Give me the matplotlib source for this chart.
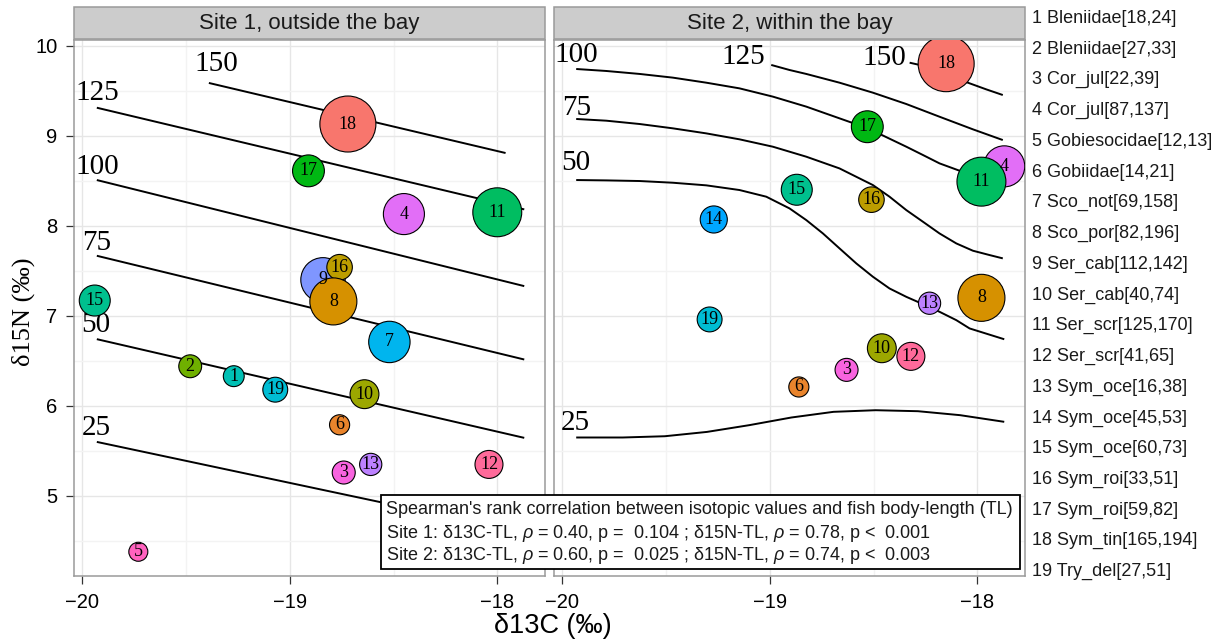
import numpy as np
import matplotlib
matplotlib.use("Agg")
import matplotlib.pyplot as plt
from matplotlib.patches import Rectangle

plt.rcParams['font.family'] = ['Liberation Sans', 'DejaVu Sans']
plt.rcParams['mathtext.fontset'] = 'custom'
plt.rcParams['mathtext.rm'] = 'Liberation Sans'
plt.rcParams['mathtext.it'] = 'Liberation Sans:italic'

# ---------------- data ----------------
groups = list(range(1, 20))
species = ["Bleniidae", "Bleniidae", "Cor_jul", "Cor_jul", "Gobiesocidae", "Gobiidae",
           "Sco_not", "Sco_por", "Ser_cab", "Ser_cab", "Ser_scr", "Ser_scr",
           "Sym_oce", "Sym_oce", "Sym_oce", "Sym_roi", "Sym_roi", "Sym_tin", "Try_del"]
tl_min = [18, 27, 22, 87, 12, 14, 69, 82, 112, 40, 125, 41, 16, 45, 60, 33, 59, 165, 27]
tl_max = [24, 33, 39, 137, 13, 21, 158, 196, 142, 74, 170, 65, 38, 53, 73, 51, 82, 194, 51]
# group placed at each successive hue of the palette
hue_order = [18, 6, 8, 16, 10, 2, 17, 11, 15, 1, 19, 7, 14, 9, 13, 4, 3, 5, 12]

site_titles = ["Site 1, outside the bay", "Site 2, within the bay"]

site1_group = [18, 17, 4, 11, 9, 16, 8, 15, 7, 2, 1, 19, 10, 6, 13, 3, 12, 5]
site1_d13c = [-18.72, -18.91, -18.45, -18.00, -18.84, -18.76, -18.79, -19.94, -18.52,
              -19.48, -19.27, -19.07, -18.64, -18.76, -18.61, -18.74, -18.04, -19.73]
site1_d15n = [9.13, 8.61, 8.13, 8.15, 7.40, 7.54, 7.16, 7.17, 6.71,
              6.44, 6.33, 6.18, 6.13, 5.79, 5.35, 5.26, 5.35, 4.38]

site2_group = [18, 17, 4, 11, 15, 16, 14, 13, 8, 19, 10, 12, 3, 6]
site2_d13c = [-18.15, -18.53, -17.87, -17.98, -18.87, -18.51, -19.27, -18.23, -17.98,
              -19.29, -18.46, -18.32, -18.63, -18.86]
site2_d15n = [9.80, 9.10, 8.66, 8.49, 8.40, 8.29, 8.07, 7.14, 7.20,
              6.96, 6.64, 6.55, 6.40, 6.21]

levels = [25, 50, 75, 100, 125, 150]

# Site 1 TL contours
s1_c25_x, s1_c25_y = [-19.93, -17.87], [5.600, 4.592]
s1_c50_x, s1_c50_y = [-19.93, -17.87], [6.741, 5.645]
s1_c75_x, s1_c75_y = [-19.93, -17.87], [7.667, 6.515]
s1_c100_x, s1_c100_y = [-19.93, -17.87], [8.508, 7.330]
s1_c125_x, s1_c125_y = [-19.93, -17.87], [9.311, 8.182]
s1_c150_x, s1_c150_y = [-19.39, -17.96], [9.586, 8.808]
s1_lab_x = [-19.933, -19.933, -19.933, -19.929, -19.929, -19.352]
s1_lab_y = [5.749, 6.897, 7.804, 8.656, 9.471, 9.793]

# Site 2 TL contours
s2_c25_x = [-19.933, -19.709, -19.506, -19.303, -19.099, -18.896, -18.693, -18.490, -18.286, -18.083, -17.870]
s2_c25_y = [5.649, 5.649, 5.663, 5.711, 5.786, 5.871, 5.934, 5.952, 5.941, 5.897, 5.823]
s2_c50_x = [-19.933, -19.788, -19.627, -19.467, -19.306, -19.146, -19.017, -18.905, -18.824, -18.744,
            -18.664, -18.583, -18.503, -18.423, -18.342, -18.262, -18.182, -18.101, -18.037, -17.870]
s2_c50_y = [8.508, 8.504, 8.497, 8.478, 8.449, 8.397, 8.323, 8.193, 8.063, 7.915,
            7.749, 7.582, 7.434, 7.304, 7.211, 7.130, 7.045, 6.952, 6.860, 6.740]
s2_c75_x = [-19.933, -19.788, -19.627, -19.467, -19.306, -19.146, -18.985, -18.824, -18.664,
            -18.503, -18.423, -18.342, -18.262, -18.182, -18.101, -18.021, -17.941, -17.877]
s2_c75_y = [9.186, 9.167, 9.130, 9.082, 9.026, 8.960, 8.878, 8.767, 8.637,
            8.452, 8.323, 8.174, 8.045, 7.915, 7.804, 7.723, 7.675, 7.638]
s2_c100_x = [-19.933, -19.788, -19.627, -19.467, -19.306, -19.146, -18.985, -18.824, -18.664,
             -18.527, -18.342, -18.262, -18.182, -18.085, -17.877]
s2_c100_y = [9.741, 9.719, 9.686, 9.645, 9.589, 9.526, 9.434, 9.323, 9.193,
             9.082, 8.878, 8.786, 8.693, 8.611, 8.415]
s2_c125_x = [-18.993, -18.905, -18.824, -18.664, -18.503, -18.342, -18.182, -18.021, -17.877]
s2_c125_y = [9.786, 9.730, 9.686, 9.589, 9.478, 9.352, 9.211, 9.071, 8.952]
s2_c150_x = [-18.326, -18.278, -18.037, -17.957, -17.877]
s2_c150_y = [9.811, 9.786, 9.582, 9.515, 9.452]
s2_lab_x = [-19.937, -19.933, -19.933, -19.933, -19.126, -18.447]
s2_lab_y = [5.811, 8.693, 9.304, 9.897, 9.871, 9.860]

stats_title = "Spearman's rank correlation between isotopic values and fish body-length (TL)"
stats_lines = ["Site 1: δ13C-TL, $\\rho$ = 0.40, p =  0.104 ; δ15N-TL, $\\rho$ = 0.78, p <  0.001",
               "Site 2: δ13C-TL, $\\rho$ = 0.60, p =  0.025 ; δ15N-TL, $\\rho$ = 0.74, p <  0.003"]

x_ticks = [-20, -19, -18]
y_ticks = [5, 6, 7, 8, 9, 10]


# ---------------- helpers ----------------
def hcl_hex(h, c=100.0, l=65.0):
    hr = np.deg2rad(h)
    u, v = c * np.cos(hr), c * np.sin(hr)
    Xn, Yn, Zn = 95.047, 100.0, 108.883
    den = Xn + 15 * Yn + 3 * Zn
    un, vn = 4 * Xn / den, 9 * Yn / den
    Y = Yn * ((l + 16) / 116) ** 3
    up, vp = u / (13 * l) + un, v / (13 * l) + vn
    X = Y * 9 * up / (4 * vp)
    Z = Y * (12 - 3 * up - 20 * vp) / (4 * vp)
    X, Y, Z = X / 100, Y / 100, Z / 100
    rgb = [3.2404542 * X - 1.5371385 * Y - 0.4985314 * Z,
           -0.9692660 * X + 1.8760108 * Y + 0.0415560 * Z,
           0.0556434 * X - 0.2040259 * Y + 1.0572252 * Z]
    out = []
    for ch in rgb:
        ch = 12.92 * ch if ch <= 0.0031308 else 1.055 * ch ** (1 / 2.4) - 0.055
        out.append(min(max(ch, 0), 1))
    return tuple(out)


n = len(hue_order)
hues = [15 + i * 360.0 / n for i in range(n)]
group_color = {g: hcl_hex(hues[i]) for i, g in enumerate(hue_order)}
tl_mid = {g: (a + b) / 2.0 for g, a, b in zip(groups, tl_min, tl_max)}
mid_lo, mid_hi = min(tl_mid.values()), max(tl_mid.values())
DPI = 100
W, H = 1220, 643


def size_of(g):
    r_px = 9.5 + 18.5 * (tl_mid[g] - mid_lo) / (mid_hi - mid_lo)
    d_pt = 2 * r_px * 72.0 / DPI
    return d_pt ** 2


def fx(px):
    return px / W


def fy(py):
    return 1 - py / H


fig = plt.figure(figsize=(W / DPI, H / DPI), dpi=DPI)
fig.patch.set_facecolor('white')

panel_left = [74, 554]
panel_w, panel_top, panel_bot = 471, 40, 576
xlim = (-20.04, -17.77)
ylim = (4.111, 10.063)

sites = [
    (site1_group, site1_d13c, site1_d15n,
     [(s1_c25_x, s1_c25_y), (s1_c50_x, s1_c50_y), (s1_c75_x, s1_c75_y),
      (s1_c100_x, s1_c100_y), (s1_c125_x, s1_c125_y), (s1_c150_x, s1_c150_y)],
     s1_lab_x, s1_lab_y),
    (site2_group, site2_d13c, site2_d15n,
     [(s2_c25_x, s2_c25_y), (s2_c50_x, s2_c50_y), (s2_c75_x, s2_c75_y),
      (s2_c100_x, s2_c100_y), (s2_c125_x, s2_c125_y), (s2_c150_x, s2_c150_y)],
     s2_lab_x, s2_lab_y),
]

serif = ['Liberation Serif', 'DejaVu Serif']
axes = []
for k, (grp, xs, ys, contours, lx, ly) in enumerate(sites):
    ax = fig.add_axes([fx(panel_left[k]), fy(panel_bot), panel_w / W, (panel_bot - panel_top) / H])
    axes.append(ax)
    ax.set_xlim(*xlim)
    ax.set_ylim(*ylim)
    ax.set_xticks(x_ticks)
    ax.set_yticks(y_ticks)
    ax.set_xticks([-19.5, -18.5], minor=True)
    ax.set_yticks([4.5, 5.5, 6.5, 7.5, 8.5, 9.5], minor=True)
    ax.grid(True, which='major', color='#E6E6E6', lw=1.0, zorder=0)
    ax.grid(True, which='minor', color='#F3F3F3', lw=1.0, zorder=0)
    ax.set_axisbelow(True)
    for sp in ax.spines.values():
        sp.set_color('#9A9A9A')
        sp.set_linewidth(1.1)
    ax.tick_params(axis='both', which='major', direction='out', length=6, width=0.9,
                   color='#333333', labelsize=14.5, labelcolor='black', pad=6)
    ax.tick_params(axis='both', which='minor', length=0)
    if k == 1:
        ax.tick_params(axis='y', which='both', length=0, labelleft=False)

    for (cx, cy) in contours:
        ax.plot(cx, cy, color='black', lw=1.4, zorder=2, solid_capstyle='butt')
    for lev, tx, ty in zip(levels, lx, ly):
        ax.text(tx, ty, str(lev), family=serif, fontsize=21, ha='center', va='center',
                color='black', zorder=3)

    cols = [group_color[g] for g in grp]
    sizes = [size_of(g) for g in grp]
    ax.scatter(xs, ys, s=sizes, c=cols, edgecolors='black', linewidths=0.8, zorder=4)
    for g, x, y in zip(grp, xs, ys):
        ax.text(x, y, str(g), family=serif, fontsize=13, ha='center', va='center',
                color='black', zorder=5)

    # facet strip
    strip = Rectangle((0, 1.0 + 1.0 / 536), 1, 32.0 / 536, transform=ax.transAxes,
                      facecolor='#CCCCCC', edgecolor='#9A9A9A', lw=1.1, clip_on=False)
    ax.add_patch(strip)
    ax.text(0.5, 1.0 + 17.0 / 536, site_titles[k], transform=ax.transAxes, ha='center',
            va='center', fontsize=16, color='#1A1A1A')

# axis titles
fig.text(fx(553), fy(626), "δ13C (‰)", ha='center', va='center', fontsize=19.5)
fig.text(fx(23), fy(312), "δ15N (‰)", ha='center', va='center', fontsize=19,
         rotation=90, family=serif)

# group labels at right
for i, (g, sp_, a, b) in enumerate(zip(groups, species, tl_min, tl_max)):
    fig.text(fx(1031.5), fy(18.3 + i * 30.74), f"{g} {sp_}[{a},{b}]", ha='left',
             va='center', fontsize=13, color='#1A1A1A')

# statistics box
box = Rectangle((fx(380.5), fy(569.3)), (1019.5 - 380.5) / W, (569.3 - 495) / H,
                transform=fig.transFigure, facecolor='white', edgecolor='black', lw=1.3,
                zorder=20)
fig.patches.append(box)
for j, line in enumerate([stats_title] + stats_lines):
    t = fig.text(fx(386), fy(510 + j * 23), line, ha='left', va='center', fontsize=13,
                 color='#1A1A1A')
    t.set_zorder(21)

fig.savefig("out.png", dpi=DPI)
